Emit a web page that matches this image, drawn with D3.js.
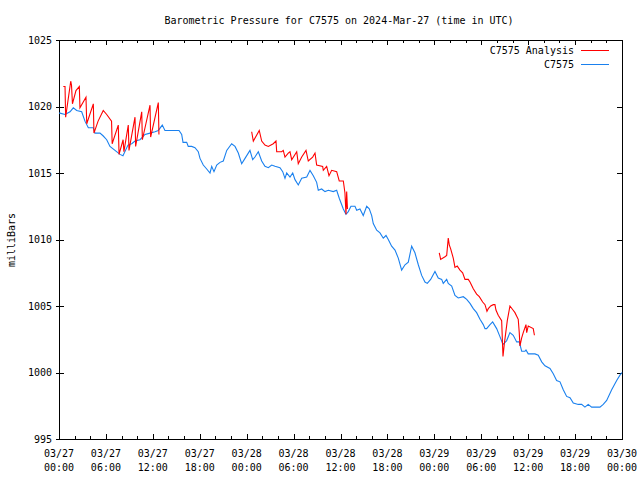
<!DOCTYPE html>
<html><head><meta charset="utf-8">
<script src="https://cdn.jsdelivr.net/npm/d3@7"></script>
<style>
html,body{margin:0;padding:0;background:#fff;}
svg text{font-family:"DejaVu Sans Mono","Liberation Mono",monospace;font-size:10px;fill:#000;}
</style></head>
<body>
<script>
// ---- data (hours since 2024-03-27 00:00 UTC) ----
const titleText = "Barometric Pressure for C7575 on 2024-Mar-27 (time in UTC)";
const yLabel = "milliBars";
const seriesNames = ["C7575 Analysis", "C7575"];
const yTicks = [995, 1000, 1005, 1010, 1015, 1020, 1025];

const obsHours = [0.00,0.13,0.77,1.41,1.83,2.26,2.90,3.32,3.75,4.39,4.60,5.24,5.63,6.10,6.52,7.16,7.80,8.18,8.82,9.30,9.72,10.36,11.00,11.64,12.28,12.70,13.21,13.55,14.19,14.83,15.35,15.69,15.86,16.33,16.53,16.97,17.39,17.81,18.03,18.45,18.89,19.31,19.53,19.82,20.17,20.59,21.01,21.45,22.08,22.51,22.93,23.36,23.79,24.42,24.77,25.06,25.49,25.92,26.34,26.77,27.20,27.62,28.26,28.61,28.90,29.12,29.54,29.89,30.18,30.60,31.04,31.68,32.10,32.52,32.95,33.16,33.59,34.02,34.44,35.08,35.51,35.84,36.36,36.70,37.00,37.34,37.85,38.07,38.49,38.91,39.35,39.68,39.99,40.19,40.63,41.05,41.47,41.82,42.11,42.54,42.97,43.39,43.82,44.25,44.67,45.10,45.52,45.95,46.38,46.80,47.10,47.53,48.08,48.50,48.94,49.14,49.58,49.78,50.22,50.64,51.06,51.70,51.92,52.14,52.56,52.98,53.41,53.84,54.26,54.48,54.69,55.12,55.46,55.97,56.39,56.78,57.25,57.67,58.09,58.53,58.86,59.17,59.59,59.72,60.01,60.87,61.29,61.73,62.15,62.79,63.21,63.64,64.07,64.49,64.92,65.35,65.77,66.41,66.84,67.26,67.68,68.12,68.54,69.18,69.60,70.04,70.68,71.32,71.74,72.00];
const obsPressure = [1019.5,1019.5,1019.4,1019.6,1019.9,1019.7,1019.6,1018.9,1018.4,1018.4,1018.0,1018.0,1017.8,1017.5,1017.0,1016.7,1016.4,1016.3,1017.1,1017.2,1017.4,1017.5,1017.9,1018.0,1018.1,1018.2,1018.6,1018.2,1018.2,1018.2,1018.2,1017.9,1017.3,1017.3,1017.0,1017.0,1016.9,1016.6,1016.1,1015.6,1015.3,1015.0,1015.5,1015.1,1015.6,1015.8,1015.9,1016.7,1017.2,1017.0,1016.5,1015.7,1016.1,1016.7,1016.0,1016.2,1016.6,1015.9,1015.5,1015.4,1015.6,1015.5,1015.4,1015.1,1014.6,1015.0,1014.7,1015.0,1014.5,1014.1,1014.6,1014.7,1015.2,1014.8,1014.3,1013.7,1013.8,1013.6,1013.7,1013.6,1013.7,1013.1,1012.3,1011.9,1012.1,1012.5,1012.5,1012.2,1012.3,1011.8,1012.5,1012.3,1011.8,1011.2,1010.7,1010.5,1010.1,1010.3,1010.0,1009.5,1009.2,1008.6,1007.7,1008.1,1008.3,1009.5,1009.0,1008.1,1007.3,1006.8,1006.7,1007.0,1007.6,1007.1,1007.0,1006.7,1007.0,1006.7,1006.5,1005.8,1005.6,1005.7,1005.6,1005.5,1005.2,1004.8,1004.5,1004.0,1003.6,1003.3,1003.3,1003.6,1003.8,1003.3,1002.7,1002.1,1002.4,1003.0,1002.8,1002.3,1002.3,1001.6,1001.6,1001.7,1001.4,1001.4,1001.3,1000.8,1000.5,1000.3,999.9,999.4,999.3,998.7,998.2,998.1,997.7,997.6,997.6,997.4,997.6,997.4,997.4,997.4,997.6,997.9,998.7,999.4,999.8,1000.0];

// analysis series; null marks a gap between runs
const anaHours = [0.55,0.77,0.85,1.50,1.60,1.72,2.17,2.60,2.68,3.45,3.55,4.39,4.47,5.00,5.66,6.10,6.72,6.80,7.58,7.68,8.20,8.30,8.86,8.95,9.72,9.80,10.58,10.66,11.64,11.72,12.70,12.78,
  null,
  24.64,24.85,25.61,25.92,26.34,26.77,27.40,27.75,27.84,28.48,28.68,28.90,29.32,29.54,29.76,30.40,30.60,31.04,31.59,31.88,32.44,32.74,32.95,33.72,33.80,34.23,34.53,34.87,35.51,35.84,36.36,36.57,36.70,36.79,36.89,
  null,
  48.63,48.81,49.36,49.58,49.78,49.91,50.09,50.42,50.64,50.93,51.28,51.62,51.92,52.34,52.56,52.98,53.41,53.75,54.18,54.48,54.73,54.90,55.21,55.54,55.75,55.88,56.17,56.61,56.78,56.94,57.33,57.67,58.06,58.31,58.73,58.86,58.95,59.17,59.37,59.72,59.81,60.01,60.65,60.80];
const anaPressure = [1021.5,1021.5,1019.2,1021.9,1021.6,1020.2,1021.2,1021.5,1019.9,1020.7,1018.7,1020.2,1018.0,1018.9,1019.7,1019.4,1018.9,1017.2,1018.6,1016.4,1017.5,1016.6,1018.6,1016.7,1019.2,1017.0,1019.6,1017.5,1020.1,1017.7,1020.3,1017.9,
  null,
  1018.1,1017.4,1018.2,1017.4,1017.1,1017.0,1017.2,1017.4,1016.6,1016.6,1016.7,1016.2,1016.5,1016.6,1016.0,1016.6,1015.7,1016.2,1016.7,1015.9,1016.2,1016.5,1015.6,1015.5,1015.2,1015.5,1014.8,1015.2,1015.1,1014.4,1014.4,1013.5,1011.9,1013.6,1012.3,
  null,
  1009.0,1008.5,1008.7,1008.8,1010.1,1009.6,1009.3,1008.6,1007.9,1008.0,1007.7,1007.5,1007.0,1007.0,1006.8,1006.3,1005.9,1005.7,1005.3,1005.1,1004.6,1004.8,1005.0,1005.1,1005.1,1004.7,1004.3,1003.9,1001.2,1002.1,1003.9,1005.0,1004.7,1004.5,1004.0,1003.0,1002.0,1002.6,1003.0,1003.6,1003.0,1003.5,1003.3,1002.8];

// ---- chart ----
const W = 640, H = 480;
const L = 59, R = 622, T = 40, B = 439;
const t0 = Date.UTC(2024, 2, 27, 0, 0);
const toDate = h => new Date(t0 + h * 3600e3);

const x = d3.scaleUtc().domain([toDate(0), toDate(72)]).range([L, R]);
const y = d3.scaleLinear().domain([995, 1025]).range([B, T]);

const svg = d3.select("body").append("svg").attr("width", W).attr("height", H);

// title
svg.append("text").attr("x", 339).attr("y", 24).attr("text-anchor", "middle").text(titleText);

// y label
svg.append("text").attr("transform", "translate(15,240) rotate(-90)").attr("text-anchor", "middle").text(yLabel);

const g = svg.append("g").attr("shape-rendering", "crispEdges");

// bottom/top x axes
const xMajor = d3.utcHour.every(6).range(toDate(0), toDate(72.01));
const xMinor = d3.utcHour.every(2).range(toDate(0), toDate(72.01)).filter(d => d.getUTCHours() % 6 !== 0);
const fmtDay = d3.utcFormat("%m/%d"), fmtTime = d3.utcFormat("%H:%M");

const axB = g.append("g").attr("transform", `translate(0,${B})`)
  .call(d3.axisBottom(x).tickValues(xMajor).tickSize(-5).tickFormat(""));
const axBm = g.append("g").attr("transform", `translate(0,${B})`)
  .call(d3.axisBottom(x).tickValues(xMinor).tickSize(-3).tickFormat(""));
const axT = g.append("g").attr("transform", `translate(0,${T})`)
  .call(d3.axisTop(x).tickValues(xMajor).tickSize(-5).tickFormat(""));
const axTm = g.append("g").attr("transform", `translate(0,${T})`)
  .call(d3.axisTop(x).tickValues(xMinor).tickSize(-3).tickFormat(""));
const axL = g.append("g").attr("transform", `translate(${L},0)`)
  .call(d3.axisLeft(y).tickValues(yTicks).tickSize(-5).tickFormat(""));
const axLo = g.append("g").attr("transform", `translate(${L},0)`)
  .call(d3.axisLeft(y).tickValues(yTicks).tickSize(3).tickFormat(""));
const axR = g.append("g").attr("transform", `translate(${R},0)`)
  .call(d3.axisRight(y).tickValues(yTicks).tickSize(-5).tickFormat(""));
[axB, axBm, axT, axTm, axL, axLo, axR].forEach(a => {
  a.select(".domain").remove();
  a.selectAll("line").attr("stroke", "#000");
});

// frame
g.append("rect").attr("x", L).attr("y", T).attr("width", R - L).attr("height", B - T)
  .attr("fill", "none").attr("stroke", "#000");

// x tick labels
const xl = svg.append("g");
xMajor.forEach(d => {
  const t = xl.append("text").attr("x", x(d)).attr("text-anchor", "middle");
  t.append("tspan").attr("x", x(d)).attr("y", 457).text(fmtDay(d));
  t.append("tspan").attr("x", x(d)).attr("y", 471).text(fmtTime(d));
});
// y tick labels
yTicks.forEach(v => {
  svg.append("text").attr("x", 52).attr("y", y(v) + 3.6).attr("text-anchor", "end").text(v);
});

// lines
const obs = obsHours.map((h, i) => ({ t: toDate(h), v: obsPressure[i] }));
const ana = anaHours.map((h, i) => ({ t: h == null ? null : toDate(h), v: anaPressure[i] }));
const line = d3.line().defined(d => d.v != null).x(d => x(d.t)).y(d => y(d.v));

svg.append("path").datum(obs).attr("d", line).attr("fill", "none")
  .attr("stroke", "#1a80ee").attr("stroke-width", 1.1);
svg.append("path").datum(ana).attr("d", line).attr("fill", "none")
  .attr("stroke", "#ff0000").attr("stroke-width", 1.1);

// legend
const legend = [
  { name: seriesNames[0], color: "#ff0000", y: 50 },
  { name: seriesNames[1], color: "#1a80ee", y: 64 }
];
legend.forEach(d => {
  svg.append("text").attr("x", 574).attr("y", d.y + 3.6).attr("text-anchor", "end").text(d.name);
  svg.append("line").attr("x1", 581).attr("x2", 609).attr("y1", d.y).attr("y2", d.y)
    .attr("stroke", d.color).attr("stroke-width", 1).attr("shape-rendering", "crispEdges");
});
</script>
</body></html>
